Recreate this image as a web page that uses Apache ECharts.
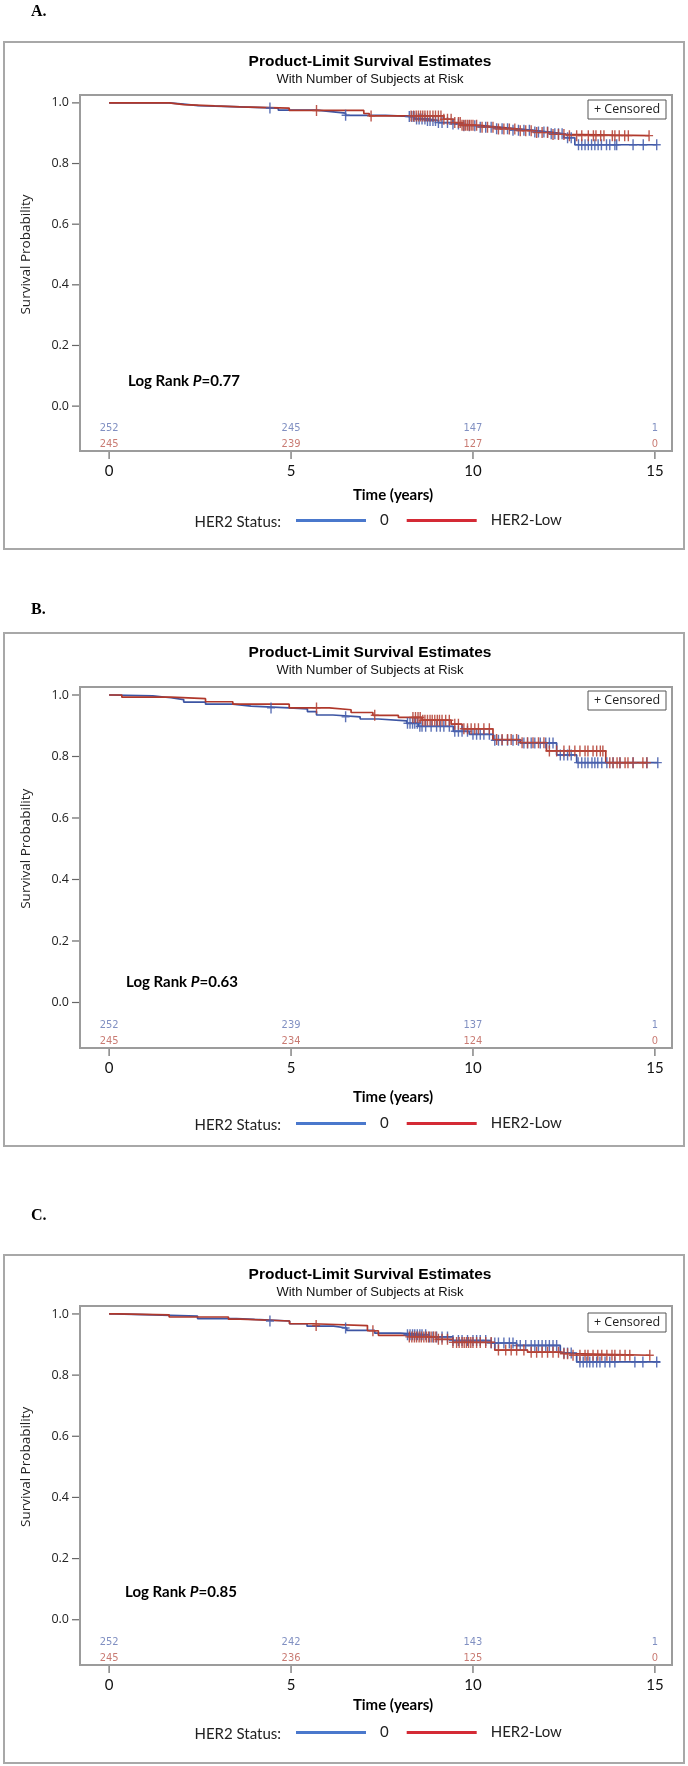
<!DOCTYPE html>
<html><head><meta charset="utf-8">
<script src="https://cdn.jsdelivr.net/npm/echarts@6/dist/echarts.min.js"></script>
<style>html,body{margin:0;padding:0;background:#fff}#c{width:688px;height:1766px}</style>
</head><body><div id="c"></div>
<script>
// ---------- DATA ----------
const xTicks = [0, 5, 10, 15];
const yTicks = [0, 0.2, 0.4, 0.6, 0.8, 1.0];
const riskTimes = [0, 5, 10, 15];
const groupNames = ['0', 'HER2-Low'];
const panelLabels = ['A.', 'B.', 'C.'];
const pValues = ['0.77', '0.63', '0.85'];

const A_risk0 = [252, 245, 147, 1];
const A_riskLow = [245, 239, 127, 0];
const B_risk0 = [252, 239, 137, 1];
const B_riskLow = [245, 234, 124, 0];
const C_risk0 = [252, 242, 143, 1];
const C_riskLow = [245, 236, 125, 0];

// Panel A step curves
const A_t0 = [0, 1.65, 2.05, 2.45, 3.6, 4.65, 5.7, 6.1, 6.5, 7.6, 8.4, 8.75, 9.05, 9.4, 9.7, 10.1, 10.6, 11.1, 11.6, 12.1, 12.5, 12.8, 15.05];
const A_s0 = [1, 0.996, 0.991, 0.987, 0.983, 0.976, 0.971, 0.966, 0.959, 0.955, 0.947, 0.942, 0.935, 0.930, 0.925, 0.920, 0.915, 0.910, 0.904, 0.898, 0.885, 0.862, 0.862];
const A_tL = [0, 1.65, 2.05, 2.9, 3.6, 4.95, 7.0, 7.15, 9.2, 9.45, 9.7, 10.2, 10.7, 11.2, 11.7, 12.2, 12.55, 14.84];
const A_sL = [1, 0.994, 0.990, 0.987, 0.983, 0.975, 0.965, 0.957, 0.946, 0.935, 0.926, 0.920, 0.914, 0.908, 0.902, 0.896, 0.892, 0.892];
const A_c0 = [4.42, 6.5, 8.25, 8.32, 8.38, 8.45, 8.52, 8.6, 8.68, 8.75, 8.82, 8.9, 8.97, 9.05, 9.15, 9.3, 9.45, 9.6, 9.75, 9.9, 10.05, 10.2, 10.35, 10.5, 10.65, 10.8, 10.95, 11.1, 11.25, 11.4, 11.55, 11.7, 11.8, 11.95, 12.05, 12.15, 12.25, 12.35, 12.45, 12.6, 12.7, 12.9, 12.99, 13.08, 13.17, 13.26, 13.35, 13.44, 13.53, 13.67, 13.76, 13.9, 13.95, 14.4, 14.68, 15.05];
const A_cL = [5.7, 7.2, 8.3, 8.37, 8.44, 8.5, 8.56, 8.62, 8.68, 8.75, 8.82, 8.9, 8.97, 9.05, 9.12, 9.2, 9.3, 9.4, 9.5, 9.6, 9.65, 9.7, 9.75, 9.8, 9.85, 9.9, 9.95, 10.0, 10.1, 10.25, 10.4, 10.55, 10.7, 10.85, 11.0, 11.15, 11.3, 11.45, 11.6, 11.75, 11.9, 12.05, 12.2, 12.35, 12.5, 12.65, 12.85, 12.99, 13.17, 13.31, 13.38, 13.51, 13.6, 13.83, 13.9, 14.02, 14.17, 14.27, 14.84];

// Panel B step curves
const B_t0 = [0, 0.1, 1.2, 1.7, 2.05, 2.65, 3.4, 3.9, 4.95, 5.45, 5.7, 6.15, 6.9, 7.4, 8.18, 8.5, 9.46, 9.9, 10.55, 11.3, 12.3, 12.85, 15.08];
const B_s0 = [1, 0.997, 0.991, 0.985, 0.977, 0.970, 0.964, 0.958, 0.955, 0.946, 0.935, 0.929, 0.922, 0.916, 0.908, 0.898, 0.882, 0.872, 0.853, 0.844, 0.805, 0.78, 0.78];
const B_tL = [0, 0.35, 1.7, 2.65, 3.4, 4.95, 6.05, 6.65, 7.25, 7.95, 8.6, 9.4, 9.7, 10.55, 11.3, 12.02, 13.65, 14.78];
const B_sL = [1, 0.993, 0.988, 0.978, 0.970, 0.958, 0.952, 0.943, 0.934, 0.927, 0.918, 0.905, 0.890, 0.855, 0.845, 0.818, 0.78, 0.78];
const B_c0 = [4.45, 6.5, 8.2, 8.27, 8.34, 8.4, 8.47, 8.54, 8.6, 8.7, 8.85, 9.0, 9.1, 9.2, 9.35, 9.5, 9.6, 9.7, 9.85, 10.0, 10.1, 10.2, 10.3, 10.45, 10.6, 10.7, 10.8, 10.95, 11.1, 11.25, 11.4, 11.5, 11.6, 11.7, 11.85, 12.0, 12.1, 12.2, 12.4, 12.5, 12.6, 12.7, 12.89, 12.99, 13.08, 13.16, 13.27, 13.35, 13.43, 13.54, 13.68, 13.85, 14.04, 14.4, 14.78, 15.08];
const B_cL = [5.7, 7.3, 8.35, 8.42, 8.49, 8.55, 8.62, 8.68, 8.75, 8.82, 8.88, 8.95, 9.02, 9.08, 9.15, 9.25, 9.35, 9.5, 9.6, 9.75, 9.85, 9.95, 10.05, 10.15, 10.3, 10.45, 10.65, 10.8, 10.95, 11.05, 11.2, 11.35, 11.5, 11.65, 11.8, 11.95, 12.1, 12.3, 12.5, 12.65, 12.8, 12.94, 13.08, 13.16, 13.3, 13.4, 13.5, 13.57, 13.76, 13.85, 13.96, 14.04, 14.18, 14.26, 14.4, 14.67, 14.78];

// Panel C step curves
const C_t0 = [0, 0.14, 1.2, 2.43, 3.5, 4.0, 4.96, 5.44, 6.17, 6.53, 7.3, 8.0, 8.8, 9.45, 10.5, 11.2, 12.4, 12.85, 15.14];
const C_s0 = [1, 0.997, 0.993, 0.985, 0.982, 0.977, 0.968, 0.960, 0.954, 0.946, 0.937, 0.932, 0.925, 0.913, 0.905, 0.897, 0.872, 0.843, 0.843];
const C_tL = [0, 0.25, 1.65, 3.28, 3.6, 4.96, 5.6, 7.1, 7.4, 8.2, 9.0, 9.45, 10.6, 11.5, 12.4, 12.7, 14.86];
const C_sL = [1, 0.997, 0.990, 0.983, 0.977, 0.968, 0.962, 0.945, 0.930, 0.925, 0.917, 0.907, 0.882, 0.875, 0.870, 0.865, 0.865];
const C_c0 = [4.42, 6.5, 8.2, 8.27, 8.34, 8.4, 8.47, 8.54, 8.6, 8.7, 8.8, 8.9, 9.0, 9.15, 9.3, 9.45, 9.6, 9.7, 9.85, 10.0, 10.1, 10.2, 10.35, 10.5, 10.6, 10.7, 10.85, 11.0, 11.1, 11.2, 11.3, 11.45, 11.6, 11.7, 11.8, 11.9, 12.0, 12.1, 12.2, 12.3, 12.5, 12.6, 12.7, 12.94, 13.03, 13.13, 13.21, 13.3, 13.4, 13.49, 13.63, 13.76, 13.9, 14.45, 14.67, 15.05];
const C_cL = [5.69, 7.25, 8.25, 8.32, 8.39, 8.45, 8.52, 8.58, 8.65, 8.72, 8.78, 8.85, 8.92, 8.98, 9.05, 9.15, 9.3, 9.45, 9.55, 9.62, 9.7, 9.76, 9.82, 9.88, 9.94, 10.0, 10.1, 10.2, 10.35, 10.5, 10.7, 10.9, 11.05, 11.2, 11.4, 11.6, 11.75, 11.9, 12.05, 12.2, 12.35, 12.5, 12.6, 12.75, 12.94, 13.08, 13.16, 13.3, 13.43, 13.54, 13.68, 13.82, 13.9, 14.04, 14.18, 14.31, 14.86];

// ---------- LAYOUT / STYLE ----------
const X_MIN = -0.8, X_MAX = 15.47, Y_MIN = -0.148, Y_MAX = 1.026;
const RISK_Y = [-0.074, -0.127];
const TICK_LEN = 7;
const COL_LINE = ['#3d55a3', '#b0382b'];
const COL_CENS = ['#4a62ae', '#b6463a'];
const COL_RISK = ['#6274b3', '#bb5a50'];
const COL_LEG = ['#4a78cc', '#d42a35'];
const layout = [
  {boxTop: 42, boxBottom: 549, gridTop: 95, gridBottom: 451, labelY: 12, timeGap: 37, legendY: 522, logX: 128, logY: 381},
  {boxTop: 633, boxBottom: 1146, gridTop: 687, gridBottom: 1048, labelY: 610, timeGap: 42, legendY: 1125, logX: 126, logY: 982},
  {boxTop: 1255, boxBottom: 1763, gridTop: 1306, gridBottom: 1665, labelY: 1216, timeGap: 33, legendY: 1734, logX: 125, logY: 1592}
];
const panels = [
  {t: [A_t0, A_tL], s: [A_s0, A_sL], c: [A_c0, A_cL], r: [A_risk0, A_riskLow]},
  {t: [B_t0, B_tL], s: [B_s0, B_sL], c: [B_c0, B_cL], r: [B_risk0, B_riskLow]},
  {t: [C_t0, C_tL], s: [C_s0, C_sL], c: [C_c0, C_cL], r: [C_risk0, C_riskLow]}
];
const PLUS = 'path://M3.3,0H4.7V4.8H8V6.2H4.7V11H3.3V6.2H0V4.8H3.3Z';

function survAt(times, surv, t) {
  let v = surv[0];
  for (let i = 0; i < times.length; i++) { if (times[i] <= t + 1e-9) v = surv[i]; }
  return v;
}

const grids = [], xAxes = [], yAxes = [], series = [], titles = [], legends = [], graphics = [];

panels.forEach((p, k) => {
  const L = layout[k];
  const h = L.gridBottom - L.gridTop;
  grids.push({left: 80, width: 592, top: L.gridTop, height: h, show: true,
    borderColor: '#9c9c9c', borderWidth: 2, backgroundColor: 'rgba(0,0,0,0)'});
  xAxes.push({type: 'value', gridIndex: k, min: X_MIN, max: X_MAX,
    name: 'Time (years)', nameLocation: 'middle', nameGap: L.timeGap,
    nameTextStyle: {fontFamily: 'Lato', fontWeight: 'bold', fontSize: 15, color: '#000', padding: [0, 0, 0, 34]},
    axisLine: {show: true, onZero: false, lineStyle: {color: '#9c9c9c', width: 2}}, splitLine: {show: false},
    axisTick: {show: false},
    axisLabel: {margin: 13, fontFamily: 'Lato', fontSize: 15, color: '#111', customValues: xTicks}});
  yAxes.push({type: 'value', gridIndex: k, min: Y_MIN, max: Y_MAX,
    axisLine: {show: true, onZero: false, lineStyle: {color: '#9c9c9c', width: 2}}, splitLine: {show: false},
    axisTick: {show: false},
    axisLabel: {margin: 11, fontFamily: 'Open Sans', fontSize: 12.5, color: '#222', customValues: yTicks,
      formatter: v => v.toFixed(1)}});
  // tick marks placed through the axes' own scales
  series.push({type: 'custom', xAxisIndex: k, yAxisIndex: k, silent: true, clip: false, animation: false, z: 1,
    encode: {x: 0, y: 1},
    data: yTicks.map(v => [X_MIN, v, 0]).concat(xTicks.map(v => [v, Y_MIN, 1])),
    renderItem: (params, api) => {
      const pt = api.coord([api.value(0), api.value(1)]);
      const vertical = api.value(2) === 1;
      return {type: 'line', shape: vertical
          ? {x1: pt[0], y1: pt[1] + 1, x2: pt[0], y2: pt[1] + 1 + TICK_LEN}
          : {x1: pt[0] - 1, y1: pt[1], x2: pt[0] - 1 - TICK_LEN, y2: pt[1]},
        style: {stroke: '#666', lineWidth: 1.2}};
    }});
  for (let g = 0; g < 2; g++) {
    series.push({type: 'line', name: groupNames[g], xAxisIndex: k, yAxisIndex: k, step: 'end',
      showSymbol: false, symbol: 'none', animation: false, z: 3,
      lineStyle: {color: COL_LINE[g], width: 1.7}, itemStyle: {color: COL_LINE[g]},
      data: p.t[g].map((t, i) => [t, p.s[g][i]])});
  }
  for (let g = 0; g < 2; g++) {
    series.push({type: 'scatter', name: 'cens' + g, xAxisIndex: k, yAxisIndex: k,
      symbol: PLUS, symbolSize: [8, 11], animation: false, z: 4, silent: true,
      itemStyle: {color: COL_CENS[g], opacity: 0.9},
      data: p.c[g].map(t => [t, survAt(p.t[g], p.s[g], t)])});
  }
  for (let g = 0; g < 2; g++) {
    series.push({type: 'scatter', name: 'risk' + g, xAxisIndex: k, yAxisIndex: k,
      symbol: 'circle', symbolSize: 1, animation: false, silent: true,
      itemStyle: {color: 'rgba(0,0,0,0)'},
      label: {show: true, position: 'inside', formatter: d => String(d.value[2]),
        fontFamily: "'DejaVu Sans Condensed', 'Liberation Sans', sans-serif", fontSize: 11, color: COL_RISK[g]},
      data: riskTimes.map((t, i) => [t, RISK_Y[g], p.r[g][i]])});
  }
  titles.push({text: 'Product-Limit Survival Estimates', subtext: 'With Number of Subjects at Risk',
    left: 370, top: L.boxTop + 12, textAlign: 'center', padding: 0, itemGap: 3,
    textStyle: {fontFamily: 'Liberation Sans', fontWeight: 'bold', fontSize: 15.5, color: '#000'},
    subtextStyle: {fontFamily: 'Liberation Sans', fontSize: 13, color: '#111'}});
  legends.push({data: groupNames.map((n, g) => ({name: n, itemStyle: {color: COL_LEG[g]}})),
    left: 296, top: L.legendY - 9, padding: 0, icon: 'rect', itemWidth: 70, itemHeight: 3, itemGap: 18,
    selectedMode: false,
    textStyle: {fontFamily: 'Lato', fontSize: 15, color: '#222', padding: [0, 0, 0, 9]}});
  // decorations
  graphics.push({type: 'rect', shape: {x: 4, y: L.boxTop, width: 680, height: L.boxBottom - L.boxTop},
    style: {fill: 'none', stroke: '#a8a8a8', lineWidth: 2}, z: -10});
  graphics.push({type: 'text', x: 31, y: L.labelY, style: {text: panelLabels[k], fontFamily: 'Liberation Serif',
    fontWeight: 'bold', fontSize: 16, fill: '#000', verticalAlign: 'middle'}});
  graphics.push({type: 'text', x: 281, y: L.legendY, style: {text: 'HER2 Status:', fontFamily: 'Lato',
    fontSize: 15, fill: '#222', align: 'right', verticalAlign: 'middle'}});
  graphics.push({type: 'rect', shape: {x: 588, y: L.boxTop + 58, width: 78, height: 19},
    style: {fill: '#fff', stroke: '#555', lineWidth: 1}, z: 10});
  graphics.push({type: 'text', x: 627, y: L.boxTop + 67.5, z: 11, style: {text: '+ Censored', fontFamily: 'Open Sans',
    fontSize: 12.5, fill: '#222', align: 'center', verticalAlign: 'middle'}});
  const yMid = L.gridTop + (Y_MAX - 0.5) / (Y_MAX - Y_MIN) * h;
  graphics.push({type: 'text', x: 26, y: yMid, rotation: Math.PI / 2, style: {text: 'Survival Probability',
    fontFamily: 'Open Sans', fontSize: 13.5, fill: '#222', align: 'center', verticalAlign: 'middle'}});
  graphics.push({type: 'text', x: L.logX, y: L.logY, z: 10, style: {
    text: '{a|Log Rank }{b|P}{a|=' + pValues[k] + '}', verticalAlign: 'middle',
    rich: {a: {fontFamily: 'Lato', fontWeight: 'bold', fontSize: 15, fill: '#000'},
           b: {fontFamily: 'Lato', fontWeight: 'bold', fontStyle: 'italic', fontSize: 15, fill: '#000'}}}});
});

const chart = echarts.init(document.getElementById('c'), null, {renderer: 'canvas'});
chart.setOption({
  backgroundColor: '#fff', animation: false,
  title: titles, legend: legends, grid: grids, xAxis: xAxes, yAxis: yAxes, series: series,
  graphic: graphics
});
</script></body></html>
